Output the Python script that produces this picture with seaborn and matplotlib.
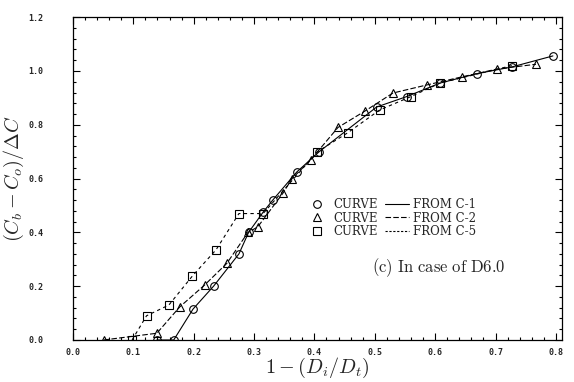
import numpy as np
import pandas as pd
import matplotlib
matplotlib.use("Agg")
import matplotlib.pyplot as plt
from matplotlib.lines import Line2D
from matplotlib.ticker import MultipleLocator, FormatStrFormatter
import seaborn as sns

# ---- data ----
c1_x = [0.139, 0.167, 0.199, 0.233, 0.275, 0.291, 0.315, 0.331, 0.371, 0.408, 0.503, 0.553, 0.608, 0.669, 0.727, 0.795]
c1_y = [0.0, 0.0, 0.115, 0.200, 0.320, 0.400, 0.475, 0.520, 0.625, 0.700, 0.866, 0.905, 0.955, 0.990, 1.015, 1.056]

c2_x = [0.051, 0.139, 0.177, 0.218, 0.255, 0.290, 0.306, 0.348, 0.363, 0.394, 0.439, 0.483, 0.530, 0.586, 0.644, 0.702, 0.767]
c2_y = [0.0, 0.025, 0.123, 0.204, 0.285, 0.400, 0.420, 0.546, 0.600, 0.670, 0.790, 0.850, 0.918, 0.948, 0.978, 1.007, 1.025]

c5_x = [0.098, 0.122, 0.159, 0.198, 0.237, 0.275, 0.315, 0.405, 0.455, 0.508, 0.560, 0.608, 0.727]
c5_y = [0.0, 0.090, 0.130, 0.238, 0.335, 0.470, 0.470, 0.700, 0.770, 0.855, 0.905, 0.955, 1.020]

series_names = ["C-1", "C-2", "C-5"]
legend_labels = ["FROM C-1", "FROM C-2", "FROM C-5"]
x_ticks = [0.0, 0.1, 0.2, 0.3, 0.4, 0.5, 0.6, 0.7, 0.8]
y_ticks = [0.0, 0.2, 0.4, 0.6, 0.8, 1.0, 1.2]

df = pd.concat([
    pd.DataFrame({"x": c1_x, "y": c1_y, "series": "C-1"}),
    pd.DataFrame({"x": c2_x, "y": c2_y, "series": "C-2"}),
    pd.DataFrame({"x": c5_x, "y": c5_y, "series": "C-5"}),
], ignore_index=True)

sns.set_style("ticks")
plt.rcParams["font.family"] = ["DejaVu Serif", "DejaVu Sans"]
plt.rcParams["mathtext.fontset"] = "cm"

fig = plt.figure(figsize=(5.74, 3.82), dpi=100)
ax = fig.add_axes([0.127, 0.110, 0.852, 0.845])

markers = {"C-1": "o", "C-2": "^", "C-5": "s"}
dashes = {"C-1": "", "C-2": (5, 2), "C-5": (3, 3)}
sns.lineplot(data=df, x="x", y="y", hue="series", style="series",
             palette={"C-1": "k", "C-2": "k", "C-5": "k"},
             markers=markers, dashes=dashes, estimator=None, sort=False,
             linewidth=0.8, markersize=5.5, markerfacecolor="none",
             markeredgecolor="k", markeredgewidth=0.8, legend=False, ax=ax)

ax.set_xlim(0, 0.81)
ax.set_ylim(0, 1.2)
ax.set_xticks(x_ticks)
ax.set_yticks(y_ticks)
ax.xaxis.set_minor_locator(MultipleLocator(0.02))
ax.yaxis.set_minor_locator(MultipleLocator(0.04))
ax.xaxis.set_major_formatter(FormatStrFormatter("%.1f"))
ax.yaxis.set_major_formatter(FormatStrFormatter("%.1f"))
ax.tick_params(which="both", direction="in", top=True, right=True, width=0.8, color="k")
ax.tick_params(which="major", length=5)
ax.tick_params(which="minor", length=2.5)
ax.tick_params(axis="y", which="major", pad=21)
ax.tick_params(axis="x", which="major", pad=6)
for lab in ax.get_xticklabels() + ax.get_yticklabels():
    lab.set_fontfamily("DejaVu Sans Mono")
    lab.set_fontweight("bold")
    lab.set_fontsize(6)
for sp in ax.spines.values():
    sp.set_linewidth(0.9)
    sp.set_color("k")

ax.set_xlabel(r"$1-(D_i/D_t)$", fontsize=14.5, labelpad=-1)
ax.set_ylabel(r"$(C_b-C_o)/\Delta C$", fontsize=14.5, labelpad=2)

# legend: marker column + line column
handles = [Line2D([], [], color="k", marker=markers[s], linestyle="none",
                  markerfacecolor="none", markersize=5.5, markeredgewidth=0.8)
           for s in series_names]
handles += [Line2D([], [], color="k", linewidth=0.8, linestyle="-"),
            Line2D([], [], color="k", linewidth=0.8, dashes=(5, 2)),
            Line2D([], [], color="k", linewidth=0.8, dashes=(2, 1.5))]
labels = ["CURVE"] * 3 + legend_labels
ax.legend(handles, labels, ncol=2, loc="upper left", bbox_to_anchor=(0.475, 0.44),
          frameon=False, fontsize=8.5, handlelength=2.0, handletextpad=0.4,
          columnspacing=0.6, labelspacing=0.05, borderpad=0, borderaxespad=0)

ax.text(0.495, 0.27, r"$\mathrm{(c)\ In\ case\ of\ D6.0}$", transform=ax.transData,
        fontsize=12, va="center", ha="left")

fig.savefig("out.png", dpi=100)
